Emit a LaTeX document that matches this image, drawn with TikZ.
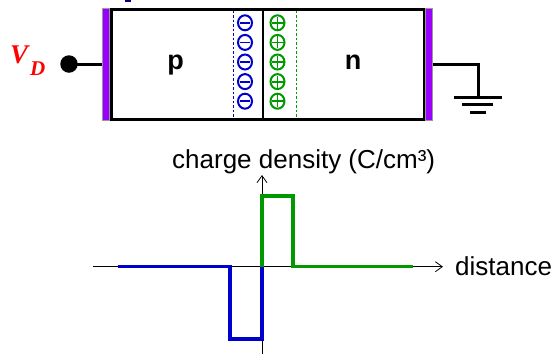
\documentclass[tikz,border=0pt]{standalone}
\usepackage{fontspec}
\setmainfont{Liberation Sans}
\newfontfamily\tnr{Liberation Serif}
\usetikzlibrary{arrows.meta,shapes.geometric}
\definecolor{cpurple}{RGB}{153,0,255}
\definecolor{cblue}{RGB}{0,0,204}
\definecolor{cgreen}{RGB}{0,153,0}
\definecolor{cred}{RGB}{255,0,0}
\definecolor{cnavy}{RGB}{0,0,120}
\tikzset{
  contact/.style={fill=cpurple, draw=black!40, line width=0.6pt, minimum width=7pt, minimum height=112pt, inner sep=0pt},
  wire/.style={line width=3pt},
  minusq/.style={ellipse, draw=cblue, line width=2pt, minimum width=14pt, minimum height=15pt, inner sep=0pt,
    path picture={\draw[cblue, line width=1.8pt] ([xshift=-5pt]path picture bounding box.center) -- ([xshift=5pt]path picture bounding box.center);}},
  plusq/.style={ellipse, draw=cgreen, line width=2pt, minimum width=14pt, minimum height=15pt, inner sep=0pt,
    path picture={\draw[cgreen, line width=1.8pt] ([xshift=-6pt]path picture bounding box.center) -- ([xshift=6pt]path picture bounding box.center)
       ([yshift=-6pt]path picture bounding box.center) -- ([yshift=6pt]path picture bounding box.center);}},
  axis/.style={line width=0.8pt, -{Straight Barb[length=7pt,width=10pt,line width=0.8pt]}},
  curve/.style={line width=3.3pt},
  lbl/.style={font=\fontsize{26}{26}\selectfont, inner sep=0pt},
  region/.style={font=\bfseries\fontsize{27}{27}\selectfont, inner sep=0pt, anchor=base}
}
\begin{document}
\begin{tikzpicture}[x=1pt,y=-1pt]
\useasboundingbox (0,0) rectangle (554,354);
% fragment at top
\fill[cnavy] (125,0) rectangle (131,2.2);
% diode body
\node[draw, line width=3pt, minimum width=313pt, minimum height=110pt, inner sep=0pt] (box) at (268,64.3) {};
\node[contact] (lc) at (105.5,64) {};
\node[contact] (rc) at (429,64) {};
\draw[line width=2.5pt] (263,9.3) -- (263,119.3);
\draw[cblue, line width=0.7pt, dash pattern=on 2.5pt off 2pt] (233,10.5) -- (233,118);
\draw[cgreen, line width=0.7pt, dash pattern=on 2.5pt off 2pt] (296,10.5) -- (296,118);
\foreach \y [count=\i] in {22.8,42.4,62.0,81.6,101.2}{
  \node[minusq] (m\i) at (245,\y) {};
  \node[plusq] (p\i) at (277.5,\y) {};
}
\node[region] (pl) at (175.5,69) {p};
\node[region] (nl) at (353,69.3) {n};
% left terminal
\node[circle, fill=black, minimum size=17.5pt, inner sep=0pt] (vd) at (69,64) {};
\draw[wire] (vd.center) -- (lc.west);
\node[anchor=base west, inner sep=0pt, text=cred, font=\tnr\bfseries\itshape\fontsize{27}{27}\selectfont] (vlab) at (10,63) {V};
\node[anchor=base west, inner sep=0pt, text=cred, font=\tnr\bfseries\itshape\fontsize{21}{21}\selectfont] (dlab) at (30,75) {D};
% ground
\coordinate (gt) at (478,97);
\draw[wire] (rc.east) -| (gt);
\coordinate (g1l) at (454,97); \coordinate (g1r) at (502,97);
\coordinate (g2l) at (462,104.5); \coordinate (g2r) at (493,104.5);
\coordinate (g3l) at (470,112); \coordinate (g3r) at (486,112);
\draw[wire] (g1l) -- (g1r);
\draw[wire] (g2l) -- (g2r);
\draw[wire] (g3l) -- (g3r);
% graph
\coordinate (o) at (262,266.7);
\coordinate (xl) at (93,266.7);
\coordinate (xr) at (443,266.7);
\coordinate (yb) at (262,354);
\coordinate (yt) at (262,175);
\draw[axis] (xl) -- (xr);
\draw[axis] (yb) -- (yt);
\node[lbl, anchor=base west] (dist) at (455,275) {distance};
\node[lbl, anchor=base west] (cd) at (172,168) {charge density (C/cm³)};
\coordinate (b0) at (118,266.7);
\coordinate (b1) at (230,266.7);
\coordinate (b2) at (230,339);
\coordinate (b3) at (262,339);
\draw[cblue, curve] (b0) -- (b1) -- (b2) -- (b3) -- (o);
\coordinate (g1) at (262,196);
\coordinate (g2) at (293,196);
\coordinate (g3) at (293,266.7);
\coordinate (g4) at (413,266.7);
\draw[cgreen, curve] (o) -- (g1) -- (g2) -- (g3) -- (g4);
\end{tikzpicture}
\end{document}
